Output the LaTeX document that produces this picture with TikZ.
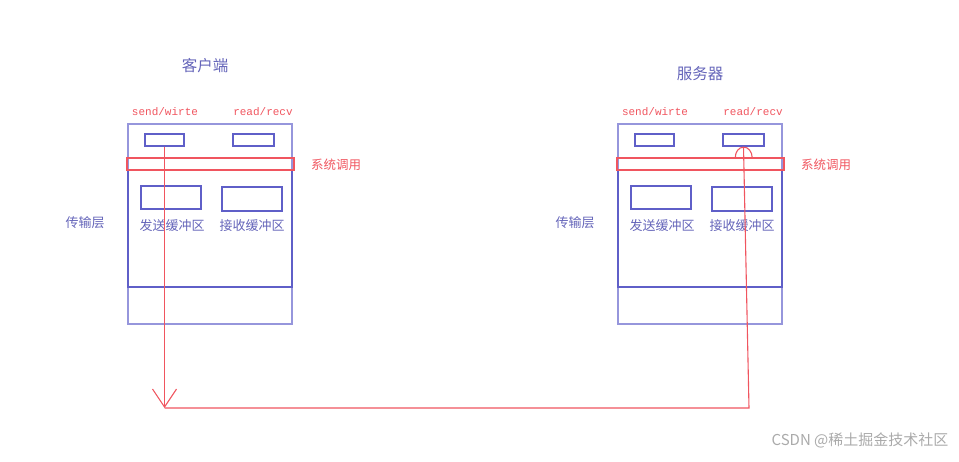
\documentclass[tikz,border=0pt]{standalone}
\usepackage{fontspec}
\newfontfamily\cjk{Noto Sans CJK SC}
\setmonofont{Liberation Mono}
\usetikzlibrary{arrows.meta}
\definecolor{lbl}{RGB}{150,150,220}
\definecolor{dbl}{RGB}{95,95,200}
\definecolor{tbl}{RGB}{100,100,185}
\definecolor{rd}{RGB}{240,85,95}
\definecolor{wm}{RGB}{170,170,170}
\tikzset{
  outerbox/.style={draw=lbl, line width=1.3pt, inner sep=0pt, minimum width=164pt, minimum height=200pt},
  innerbox/.style={draw=dbl, line width=1.6pt, inner sep=0pt, minimum width=164pt, minimum height=117pt},
  callbar/.style={draw=rd, line width=1.3pt, inner sep=0pt, minimum width=167pt, minimum height=12pt},
  smallbox/.style={draw=dbl, line width=1.1pt, inner sep=0pt, minimum height=12pt},
  bufbox/.style={draw=dbl, line width=1.1pt, inner sep=0pt, minimum width=60pt},
  buftext/.style={text=tbl, inner sep=0pt, font=\cjk\fontsize{13}{13}\selectfont},
  redlbl/.style={text=rd, inner sep=0pt, font=\ttfamily\fontsize{11}{11}\selectfont},
  redcjk/.style={text=rd, inner sep=0pt, font=\cjk\fontsize{12.5}{13}\selectfont},
  bluecjk/.style={text=tbl, inner sep=0pt, font=\cjk\fontsize{13}{13}\selectfont},
  titlecjk/.style={text=tbl, inner sep=0pt, font=\cjk\fontsize{15.5}{16}\selectfont},
  link/.style={draw=rd, line width=1.1pt},
}
\newcommand\myterminal[2]{%
  \begin{scope}[xshift=#2]
    \node[outerbox] (#1outer) at (210,224) {};
    \node[innerbox] (#1inner) at (210,228.5) {};
    \node[callbar] (#1bar) at (210.5,164) {};
    \node[smallbox, minimum width=39pt] (#1send) at (164.5,140) {};
    \node[smallbox, minimum width=41pt] (#1read) at (253.5,140) {};
    \node[bufbox, minimum height=23pt] (#1sbuf) at (171,197.5) {};
    \node[bufbox, minimum height=24pt] (#1rbuf) at (252,199) {};
    \node[buftext] (#1stxt) at (172,226) {发送缓冲区};
    \node[buftext] (#1rtxt) at (252,226) {接收缓冲区};
    \node[redlbl] (#1sl) at (165,112) {send/wirte};
    \node[redlbl] (#1rl) at (263,112) {read/recv};
    \node[redcjk] (#1sys) at (336,165) {系统调用};
    \node[bluecjk] (#1tl) at (85,223) {传输层};
  \end{scope}}
\begin{document}
\begin{tikzpicture}[x=1pt,y=-1pt]
  \useasboundingbox (0,0) rectangle (959,462);
  \myterminal{C}{0pt}
  \myterminal{S}{490pt}
  \node[titlecjk] (ctitle) at (205,66) {客户端};
  \node[titlecjk] (stitle) at (700,74) {服务器};
  \coordinate (cornerL) at (Csend.south |- 0,408);
  \coordinate (cornerR) at (749,408);
  \draw[link, -{Straight Barb[length=18pt,width=24pt]}] (Csend.south) -- (cornerL);
  \draw[link, -{Arc Barb[length=11pt,width=18pt]}] (cornerL) -- (cornerR) -- (Sread.south);
  \node[text=wm, inner sep=0pt, font=\cjk\fontsize{15}{15}\selectfont] (wmark) at (860,440) {CSDN @稀土掘金技术社区};
\end{tikzpicture}
\end{document}
